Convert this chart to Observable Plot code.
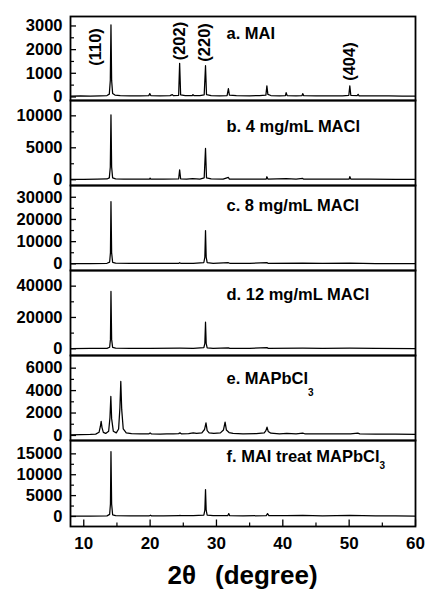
<!DOCTYPE html>
<html><head><meta charset="utf-8">
<script src="https://cdn.jsdelivr.net/npm/d3@7"></script>
<script src="https://cdn.jsdelivr.net/npm/@observablehq/plot@0.6"></script>
<style>
html,body{margin:0;padding:0;background:#fff;}
#chart{position:relative;width:426px;height:591px;overflow:hidden;font-family:"Liberation Sans",Arial,sans-serif;color:#000;}
#chart svg{position:absolute;left:0;display:block;}
#xtitle{position:absolute;left:70px;width:345px;top:562px;text-align:center;font-size:26px;font-weight:bold;line-height:26px;white-space:pre;}
#xtitle span.g{margin-left:19px;}
</style></head><body><div id="chart"></div>
<script>
// ---------- data ----------
const twoTheta = d => d[0];
const intensity = d => d[1];

const patternA = [[8,40],[9.5,45],[11,40],[12.5,50],[13.5,60],[13.85,120],[14.0,700],[14.1,3050],[14.2,700],[14.35,150],[14.7,80],[15.5,60],[17,50],[18.5,45],[19.8,55],[19.95,140],[20.1,60],[21.5,50],[23,55],[23.35,100],[23.5,55],[24.3,70],[24.45,1420],[24.6,90],[25.3,60],[26.35,60],[26.45,100],[26.6,60],[27.5,60],[28.15,90],[28.35,1320],[28.5,100],[29.2,60],[30.5,50],[31.6,60],[31.8,350],[31.95,80],[33,55],[35,50],[36.5,55],[37.45,80],[37.6,470],[37.75,110],[38.2,60],[39.5,50],[40.4,60],[40.5,180],[40.65,60],[42,50],[42.9,60],[43.0,140],[43.15,55],[45,50],[47,45],[49,50],[49.95,70],[50.1,470],[50.25,70],[51.2,55],[51.35,110],[51.5,50],[53,45],[56,45],[58,40],[60,40]];
const patternB = [[8,60],[10,70],[12,80],[13.5,120],[13.85,300],[14.0,2000],[14.1,10150],[14.2,2000],[14.35,300],[14.8,150],[16,100],[18,90],[19.9,100],[20.0,250],[20.1,100],[22,90],[24.3,120],[24.45,1560],[24.6,150],[25.5,100],[26.4,180],[27.5,100],[28.15,300],[28.35,4900],[28.5,300],[29.2,120],[31,100],[31.8,360],[31.95,100],[34,90],[37.5,100],[37.6,470],[37.75,100],[40.5,180],[42,90],[43.0,200],[43.15,90],[46,80],[50.0,100],[50.1,500],[50.25,100],[53,80],[57,70],[60,60]];
const patternC = [[8,100],[11,150],[13.5,250],[13.9,800],[14.02,5000],[14.1,28060],[14.2,5000],[14.35,700],[14.8,300],[17,200],[20,200],[24.35,250],[24.45,500],[24.6,250],[26.5,250],[28.1,600],[28.25,3000],[28.35,15000],[28.45,3000],[28.6,500],[29.5,250],[31.8,500],[32,250],[35,200],[37.6,600],[37.8,200],[43,350],[46,200],[50.1,350],[54,150],[60,100]];
const patternD = [[8,100],[11,200],[13.5,300],[13.9,1000],[14.02,6000],[14.1,36600],[14.2,6000],[14.35,900],[14.8,400],[17,250],[20,250],[24.5,400],[26.5,300],[28.1,700],[28.25,3500],[28.35,17000],[28.45,3500],[28.6,600],[29.5,300],[31.8,600],[32,300],[35,250],[37.6,800],[37.8,250],[43,400],[46,250],[50.1,400],[54,200],[60,150]];
const patternE = [[8,60],[9.5,70],[11,90],[11.8,120],[12.3,280],[12.5,800],[12.62,1250],[12.75,700],[12.95,280],[13.3,180],[13.75,380],[13.95,1600],[14.08,3480],[14.2,1500],[14.45,380],[14.9,230],[15.25,580],[15.45,2500],[15.58,4820],[15.72,2300],[15.95,580],[16.4,230],[17.2,160],[18.5,130],[19.8,130],[20.0,230],[20.2,130],[21.5,110],[22.5,150],[23.5,130],[24.3,160],[24.5,230],[24.7,150],[25.8,160],[26.5,240],[27.0,180],[27.8,230],[28.2,530],[28.42,1130],[28.6,430],[28.9,230],[29.6,180],[30.6,230],[31.05,480],[31.3,1190],[31.5,480],[31.9,260],[32.5,180],[34,150],[36,160],[37.2,230],[37.45,430],[37.62,740],[37.8,360],[38.2,200],[39.5,140],[40.6,180],[42,140],[43.0,210],[43.3,150],[45,130],[47,130],[48.5,140],[50.2,150],[51.3,210],[51.6,140],[54,120],[57,110],[60,100]];
const patternF = [[8,80],[11,100],[13.5,150],[13.9,500],[14.02,3000],[14.1,15550],[14.2,3000],[14.35,400],[14.8,200],[17,150],[19.9,160],[20.05,300],[20.2,150],[22,150],[24.4,180],[24.5,280],[24.6,180],[26.5,200],[28.1,350],[28.25,1500],[28.35,6460],[28.45,1500],[28.6,300],[29.5,180],[31.7,200],[31.85,700],[32.0,200],[34,150],[37.5,200],[37.7,700],[37.9,200],[40.5,220],[43,260],[46,150],[50.1,260],[54,130],[57,130],[60,100]];

const patterns = [patternA, patternB, patternC, patternD, patternE, patternF];
const panelLabels = ["a. MAI", "b. 4 mg/mL MACl", "c. 8 mg/mL MACl", "d. 12 mg/mL MACl", "e. MAPbCl₃", "f. MAI treat MAPbCl₃"];
const yDomains = [[-150, 3400], [-900, 12400], [-3000, 35300], [-4300, 50000], [-450, 7130], [-2400, 18200]];
const yMajorTicks = [[0, 1000, 2000, 3000], [0, 5000, 10000], [0, 10000, 20000, 30000], [0, 20000, 40000], [0, 2000, 4000, 6000], [0, 5000, 10000, 15000]];
const yMinorTicks = [[500, 1500, 2500], [2500, 7500], [5000, 15000, 25000], [10000, 30000], [1000, 3000, 5000], [2500, 7500, 12500]];
const xDomain = [8, 60];
const xMajorTicks = [10, 20, 30, 40, 50, 60];
const xMinorTicks = [15, 25, 35, 45, 55];
const peakLabels = ["(110)", "(202)", "(220)", "(404)"];
const peakPositions = [14.1, 24.45, 28.35, 50.1];
const peakHeights = [3050, 1420, 1320, 470];
const xTitle = ["2θ", "(degree)"];

// ---------- layout ----------
const W = 426, ML = 70, MR = 11, frameW = W - ML - MR;
const bounds = [16, 100, 185, 270, 355, 440, 526];
const labelDy = [10.5, 20, 14, 18, 16.5, 10];
const subDy = [0, 0, 0, 0, 12, 7];
const peakOffsets = [[-15, 41], [0, -3], [-1, -4], [0, -5]];
const font = "'Liberation Sans', Arial, sans-serif";
const chart = document.getElementById("chart");

for (let i = 0; i < 6; i++) {
  const last = i === 5;
  const h = bounds[i + 1] - bounds[i];
  const mt = 1, mb = last ? 40 : 1;
  const marks = [
    Plot.line(patterns[i], {x: twoTheta, y: intensity, stroke: "#000", strokeWidth: 1.25, clip: "frame"}),
    Plot.tickY(yMajorTicks[i], {y: d => d, insetRight: frameW - 6, stroke: "#000", strokeWidth: 1.3}),
    Plot.tickY(yMinorTicks[i], {y: d => d, insetRight: frameW - 4, stroke: "#000", strokeWidth: 1.2}),
    Plot.axisY(yMajorTicks[i], {tickSize: 0, tickPadding: 8, tickFormat: "d", fontSize: 16.5, fontWeight: "bold", label: null}),
    Plot.text([panelLabels[i]], {frameAnchor: "top-left", text: d => d, dx: 156, dy: labelDy[i], lineAnchor: "top", textAnchor: "start", fontSize: 16.5, fontWeight: "bold"})
  ];
  if (i === 0) {
    peakLabels.forEach((lab, k) => {
      marks.push(Plot.text([lab], {x: () => peakPositions[k], y: () => peakHeights[k], text: d => d, rotate: -90, textAnchor: "start", lineAnchor: "middle", dx: peakOffsets[k][0], dy: peakOffsets[k][1], fontSize: 16.5, fontWeight: "bold"}));
    });
  }
  if (last) {
    marks.push(Plot.tickX(xMajorTicks, {x: d => d, insetTop: h - 6.5, stroke: "#000", strokeWidth: 1.3}));
    marks.push(Plot.tickX(xMinorTicks, {x: d => d, insetTop: h - 3.5, stroke: "#000", strokeWidth: 1.2}));
    marks.push(Plot.axisX(xMajorTicks, {tickSize: 0, tickPadding: 10, tickFormat: "d", fontSize: 17, fontWeight: "bold", label: null}));
  }
  marks.push(Plot.frame({stroke: "#000", strokeWidth: 1.8}));
  const svg = Plot.plot({
    width: W, height: h + mt + mb,
    marginLeft: ML, marginRight: MR, marginTop: mt, marginBottom: mb,
    x: {domain: xDomain, axis: last ? undefined : null},
    y: {domain: yDomains[i]},
    style: {background: "transparent", fontFamily: font, color: "#000", overflow: "visible"},
    marks
  });
  svg.style.top = (bounds[i] - mt) + "px";
  d3.select(svg).selectAll("text").each(function() {
    const t = this.textContent;
    if (t.includes("₃")) {
      const sel = d3.select(this);
      sel.text(null);
      sel.append("tspan").text(t.replace("₃", ""));
      sel.append("tspan").attr("font-size", 10).attr("dy", subDy[i]).text("3");
    }
  });
  chart.appendChild(svg);
}

const title = document.createElement("div");
title.id = "xtitle";
title.innerHTML = `<span>${xTitle[0]}</span><span class="g">${xTitle[1]}</span>`;
chart.appendChild(title);
</script></body></html>
